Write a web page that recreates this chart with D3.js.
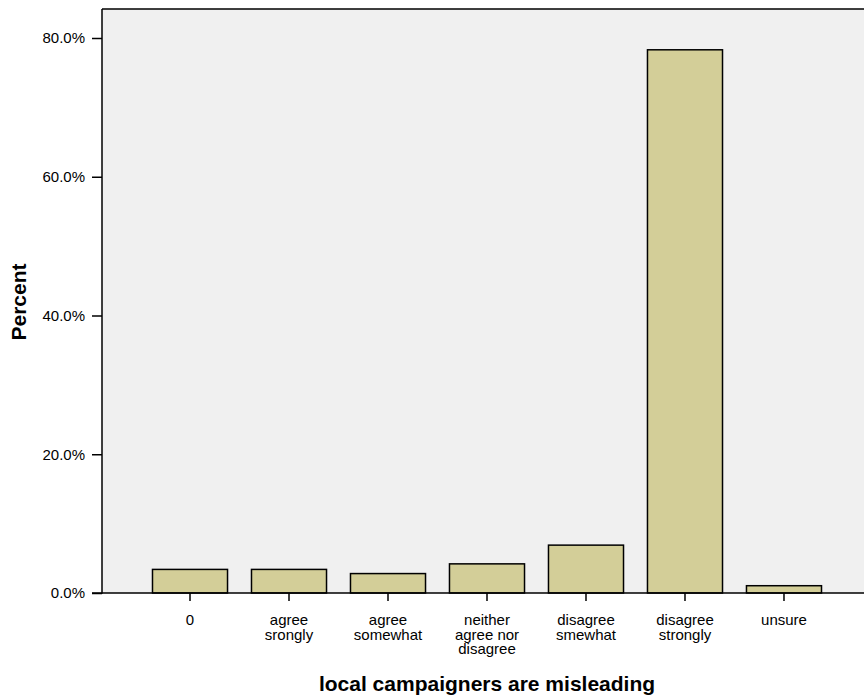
<!DOCTYPE html>
<html>
<head>
<meta charset="utf-8">
<script src="https://cdn.jsdelivr.net/npm/d3@7"></script>
<style>
  html, body { margin: 0; padding: 0; background: #fff; }
  text { font-family: "Liberation Sans", Arial, sans-serif; fill: #000; }
</style>
</head>
<body>
<svg id="chart" width="864" height="700"></svg>
<script>
const categories = ["0", "agree srongly", "agree somewhat", "neither agree nor disagree", "disagree smewhat", "disagree strongly", "unsure"];
const categoryLines = [["0"], ["agree", "srongly"], ["agree", "somewhat"], ["neither", "agree nor", "disagree"], ["disagree", "smewhat"], ["disagree", "strongly"], ["unsure"]];
const percents = [3.4, 3.4, 2.8, 4.2, 6.9, 78.3, 1.05];
const yTicks = [0, 20, 40, 60, 80];

(function () {
const svg = d3.select("#chart");
const plotLeft = 102, plotRight = 872, plotTop = 9, baseline = 593;

const x = d3.scaleBand().domain(categories).range([plotLeft, plotRight]).paddingInner(0.242).paddingOuter(0.51);
const y = d3.scaleLinear().domain([0, 80]).range([baseline, 38]);

// plot background
svg.append("rect").attr("x", plotLeft).attr("y", plotTop).attr("width", 864 - plotLeft).attr("height", baseline - plotTop)
  .attr("fill", "#f0f0f0");
svg.append("line").attr("x1", plotLeft).attr("x2", 864).attr("y1", plotTop).attr("y2", plotTop)
  .attr("stroke", "#000").attr("stroke-width", 1.5);

// bars
svg.append("g").selectAll("rect").data(categories).join("rect")
  .attr("x", d => x(d))
  .attr("y", (d, i) => y(percents[i]))
  .attr("width", x.bandwidth())
  .attr("height", (d, i) => baseline - y(percents[i]))
  .attr("fill", "#d3ce98")
  .attr("stroke", "#000")
  .attr("stroke-width", 1.5);

// y axis
const yAxis = d3.axisLeft(y).tickValues(yTicks).tickSize(10).tickPadding(7)
  .tickFormat(d => d.toFixed(1) + "%");
const yg = svg.append("g").attr("transform", `translate(${plotLeft},0)`).call(yAxis);
yg.select(".domain").remove();
yg.selectAll(".tick line").attr("stroke", "#000").attr("stroke-width", 1.5);
yg.selectAll(".tick text").attr("font-size", 15).attr("font-family", "Liberation Sans, Arial, sans-serif").attr("fill", "#000");
svg.append("line").attr("x1", plotLeft).attr("x2", plotLeft).attr("y1", plotTop).attr("y2", baseline + 0.75)
  .attr("stroke", "#000").attr("stroke-width", 1.5);

// x axis
const xAxis = d3.axisBottom(x).tickSize(8).tickFormat("");
const xg = svg.append("g").attr("transform", `translate(0,${baseline})`).call(xAxis);
xg.select(".domain").remove();
xg.selectAll(".tick line").attr("stroke", "#000").attr("stroke-width", 1.5);
svg.append("line").attr("x1", plotLeft - 10).attr("x2", 864).attr("y1", baseline).attr("y2", baseline)
  .attr("stroke", "#000").attr("stroke-width", 1.5);

// category labels
const lab = svg.append("g").selectAll("text").data(categories).join("text")
  .attr("x", d => x(d) + x.bandwidth() / 2)
  .attr("y", 625)
  .attr("text-anchor", "middle")
  .attr("font-size", 15);
lab.each(function (d, i) {
  const t = d3.select(this);
  categoryLines[i].forEach((line, j) => {
    t.append("tspan").attr("x", x(d) + x.bandwidth() / 2).attr("dy", j === 0 ? 0 : 14.7).text(line);
  });
});

// axis titles
svg.append("text").attr("x", 487).attr("y", 691).attr("text-anchor", "middle")
  .attr("font-size", 21).attr("font-weight", "bold").text("local campaigners are misleading");
svg.append("text").attr("transform", "translate(26,302) rotate(-90)").attr("text-anchor", "middle")
  .attr("font-size", 21).attr("font-weight", "bold").text("Percent");
})();
</script>
</body>
</html>
